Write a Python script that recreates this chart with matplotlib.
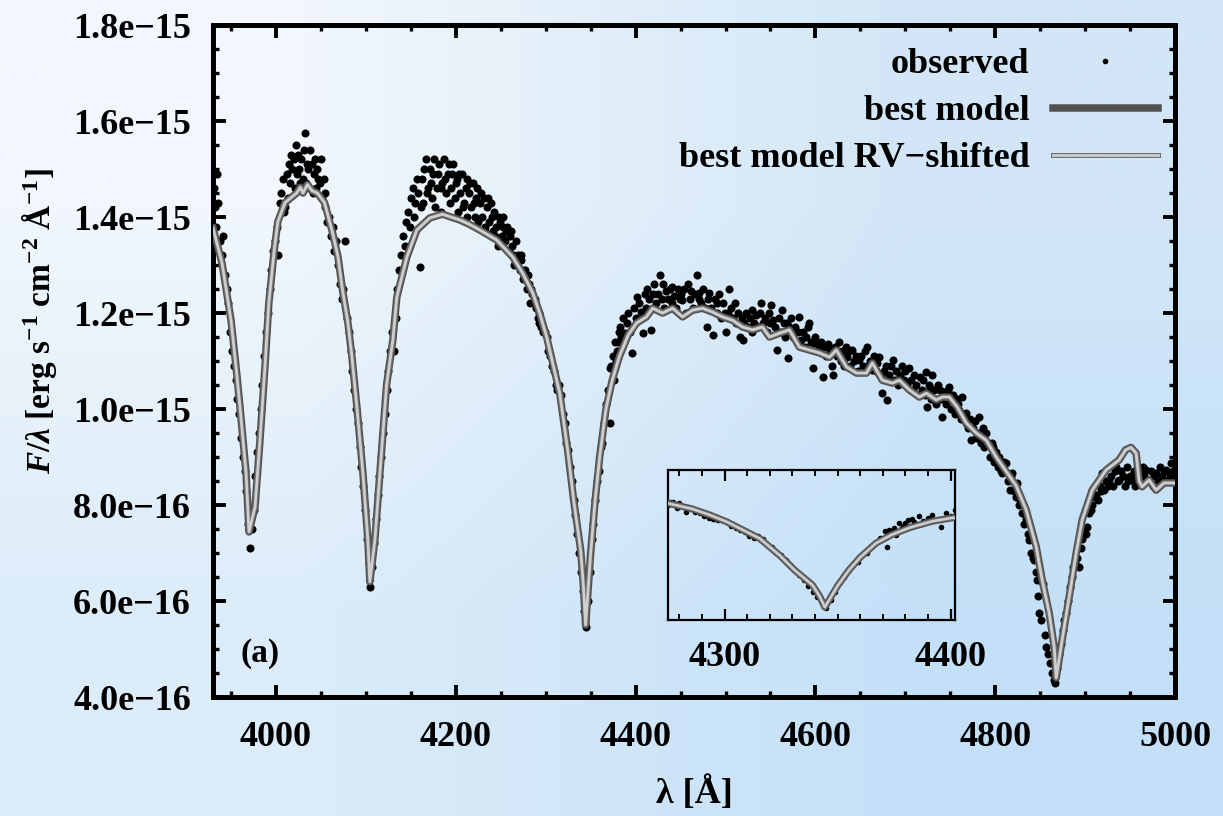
import numpy as np
import matplotlib
matplotlib.use("Agg")
import matplotlib.pyplot as plt
import matplotlib.patheffects as pe
from matplotlib.ticker import MultipleLocator, FuncFormatter

# fluxes below are in units of 1e-16 erg/s/cm^2/A
model_pts = [
    (3930, 13.77), (3940, 13.04), (3950, 11.85), (3956, 10.8), (3960, 10.04),
    (3966.7, 8.67), (3970, 7.44), (3976.7, 7.96), (3982.2, 9.35), (3987.8, 10.9),
    (3992, 12.2), (3998, 13.3), (4002, 13.9), (4010, 14.3), (4023, 14.5),
    (4027, 14.62), (4030, 14.5), (4035, 14.68), (4040, 14.55), (4046, 14.5),
    (4054, 14.3), (4063, 13.67), (4069, 13.17), (4074, 12.48), (4080, 11.8),
    (4084.4, 11.1), (4090, 10.04), (4096.7, 8.67), (4102.2, 7.27), (4104.4, 6.4),
    (4110, 7.27), (4115.6, 8.67), (4123, 10.5), (4130, 11.44), (4134.4, 12.33),
    (4145.6, 13.17), (4156.7, 13.73), (4171, 13.98), (4185, 14.06), (4204.4, 13.94),
    (4215, 13.85), (4226.7, 13.73), (4245.6, 13.52), (4263.3, 13.17), (4274.4, 12.83),
    (4285.6, 12.42), (4293.3, 12.0), (4301.1, 11.5), (4307.8, 10.96), (4315.6, 10.33),
    (4324.4, 9.15), (4331.1, 8.1), (4338.9, 7.06), (4342, 6.3), (4344.4, 5.5),
    (4350, 7.0), (4355, 8.1), (4360, 9.0), (4367, 10.0), (4374, 10.6),
    (4382, 11.1), (4392, 11.55), (4401, 11.79), (4412, 11.92), (4418.9, 12.1),
    (4430, 12.0), (4441.1, 12.1), (4452.2, 11.92), (4463.3, 12.06), (4474.4, 12.1),
    (4485.6, 12.02), (4496.7, 11.92), (4507.8, 11.85), (4518.9, 11.71), (4530, 11.65),
    (4541.1, 11.71), (4548.9, 11.5), (4560, 11.58), (4571.1, 11.65), (4582.2, 11.29),
    (4593.3, 11.23), (4604.4, 11.17), (4615.6, 11.08), (4623.3, 11.23), (4634.4, 10.88),
    (4645.6, 10.75), (4656.7, 10.75), (4663.3, 10.96), (4674.4, 10.6), (4685.6, 10.54),
    (4693.3, 10.6), (4704.4, 10.4), (4715.6, 10.25), (4723.3, 10.33), (4734.4, 10.19),
    (4741.1, 10.25), (4748.9, 10.25), (4757.8, 10.04), (4767.8, 9.71), (4778.9, 9.5),
    (4790, 9.35), (4801.1, 9.0), (4812.2, 8.7), (4823.3, 8.4), (4834.4, 7.9),
    (4845.6, 7.13), (4852.2, 6.44), (4860, 5.75), (4865.6, 5.04), (4867.8, 4.4),
    (4874.4, 5.19), (4882.2, 6.08), (4890, 7.0), (4896.7, 7.69), (4907.8, 8.31),
    (4923.3, 8.73), (4937.8, 8.94), (4945, 9.15), (4951, 9.2), (4956.7, 9.08),
    (4960, 8.5), (4963.3, 8.38), (4971.1, 8.52), (4978.9, 8.31), (4987.8, 8.46),
    (5000, 8.46),
]

obs_heps = [
    (3931, 14.6), (3932, 14.2), (3933, 13.8), (3934, 14.9), (3936, 14.3), (3938, 13.5),
    (3940, 13.2), (3941, 13.6), (3943, 12.8), (3945, 12.5), (3947, 12.2), (3949, 11.6),
    (3951, 11.2), (3953, 10.9), (3955, 10.6), (3957, 10.2), (3959, 9.9), (3961, 9.4),
    (3963, 9.0), (3965, 8.7), (3967, 8.3), (3969, 7.6), (3971, 7.1), (3973, 7.5),
    (3975, 7.9), (3977, 8.6), (3979, 9.1), (3981, 9.5), (3983, 10.0), (3985, 10.5),
    (3987, 11.1), (3989, 11.6), (3991, 12.0), (3993, 12.5), (3995, 12.9), (3997, 13.3),
    (3999, 13.5),
]

obs_hdelta = [
    (4001, 13.8), (4002, 13.2), (4004, 14.3), (4006, 14.5), (4008, 14.8), (4009, 14.1),
    (4010, 14.2), (4012, 14.9), (4013, 14.4), (4014, 15.1), (4016, 14.7), (4017, 15.3),
    (4018, 15.0), (4020, 15.2), (4021, 14.6), (4022, 15.5), (4023, 14.9), (4025, 15.3),
    (4026, 15.0), (4027, 14.7), (4028, 15.2), (4030, 14.8), (4031, 15.4), (4032, 15.75),
    (4033, 14.7), (4035, 15.1), (4036, 15.0), (4037, 14.6), (4038, 15.4), (4040, 15.1),
    (4041, 14.5), (4042, 14.9), (4043, 15.2), (4045, 14.6), (4046, 15.0), (4047, 14.8),
    (4049, 14.7), (4050, 15.2), (4051, 14.4), (4053, 14.8), (4054, 14.2), (4055, 14.5),
    (4057, 13.9), (4059, 14.0), (4061, 13.6), (4063, 13.8), (4065, 13.3), (4067, 13.5),
    (4069, 13.0), (4071, 12.6), (4073, 12.3), (4075, 12.5), (4077, 13.5), (4079, 11.9),
    (4081, 11.6), (4083, 11.2), (4085, 10.8), (4087, 10.4), (4089, 10.0), (4091, 9.7),
    (4093, 9.2), (4095, 8.8), (4097, 8.4), (4099, 7.9), (4101, 7.3), (4103, 6.8),
    (4105, 6.3), (4107, 6.7), (4109, 7.2), (4111, 7.7), (4113, 8.2), (4115, 8.6),
    (4117, 9.0), (4119, 9.5), (4121, 9.9), (4123, 10.4), (4125, 10.8), (4127, 11.2),
    (4129, 11.6),
]

obs_hgamma = [
    (4131, 11.2), (4133, 11.9), (4135, 12.5), (4137, 12.9), (4139, 13.2), (4141, 13.6),
    (4143, 13.4), (4145, 13.9), (4147, 14.1), (4149, 13.8), (4150, 14.4), (4152, 14.6),
    (4154, 14.0), (4155, 14.3), (4157, 14.8), (4158, 14.5), (4160, 12.96), (4161, 14.2),
    (4162, 14.8), (4164, 14.3), (4165, 15.0), (4167, 15.2), (4168, 14.5), (4169, 14.6),
    (4171, 15.0), (4172, 14.7), (4173, 14.4), (4175, 14.9), (4176, 15.2), (4177, 14.2),
    (4179, 14.6), (4180, 14.9), (4181, 15.1), (4183, 14.1), (4184, 14.6), (4185, 14.7),
    (4187, 15.2), (4188, 14.8), (4189, 14.5), (4191, 14.9), (4192, 15.1), (4193, 14.3),
    (4195, 14.6), (4196, 14.9), (4197, 15.1), (4199, 14.4), (4200, 14.7), (4201, 14.8),
    (4203, 14.1), (4204, 14.9), (4205, 14.5), (4207, 14.9), (4208, 14.2), (4209, 14.3),
    (4211, 14.6), (4212, 14.8), (4213, 14.0), (4215, 14.5), (4216, 14.7), (4217, 14.2),
    (4219, 14.7), (4220, 14.3), (4221, 14.0), (4223, 14.4), (4224, 14.6), (4225, 13.9),
    (4227, 14.3), (4228, 14.5), (4229, 14.0), (4231, 14.4), (4232, 13.7), (4233, 13.8),
    (4235, 14.2), (4236, 14.4), (4237, 13.9), (4239, 14.3), (4240, 14.0), (4241, 13.7),
    (4243, 14.1), (4244, 13.6), (4245, 13.8), (4247, 13.4), (4248, 14.0), (4249, 13.9),
    (4251, 13.6), (4252, 13.8), (4253, 14.0), (4255, 13.5), (4256, 13.7), (4257, 13.8),
    (4259, 13.3), (4260, 13.6), (4261, 13.7), (4263, 13.4), (4264, 13.2), (4265, 13.0),
    (4267, 13.5), (4268, 13.1), (4269, 13.2), (4271, 12.9), (4272, 13.2), (4273, 13.1),
    (4275, 12.7), (4276, 12.9), (4277, 12.9), (4279, 12.5), (4280, 12.8), (4281, 12.6),
    (4283, 12.2), (4284, 12.5), (4285, 12.4), (4287, 12.2), (4288, 12.3), (4289, 12.1),
    (4291, 11.9), (4292, 12.0), (4293, 11.8), (4295, 11.7), (4296, 11.7), (4297, 11.6),
    (4299, 11.6), (4301, 11.5), (4303, 11.2), (4305, 11.1), (4307, 10.9), (4309, 10.8),
    (4311, 10.5), (4313, 10.4), (4315, 10.5), (4317, 10.3), (4319, 9.9), (4321, 9.7),
    (4323, 9.3), (4325, 9.15), (4327, 8.8), (4329, 8.5), (4331, 8.1), (4333, 7.8),
    (4335, 7.4), (4337, 7.0), (4339, 6.6), (4341, 6.2), (4343, 5.8), (4345, 5.45),
    (4347, 6.0), (4349, 6.6), (4351, 7.3), (4353, 7.6), (4355, 8.1), (4357, 8.5),
    (4359, 8.7), (4361, 9.2), (4363, 9.3), (4365, 9.7), (4367, 10.1), (4369, 10.4),
    (4371, 10.85), (4373, 10.9), (4375, 11.1), (4377, 11.4), (4379, 11.2), (4381, 11.6),
    (4383, 11.7),
]

obs_cont = [
    (4372, 9.7), (4374, 10.85), (4376, 10.6), (4378, 11.0), (4380, 11.4), (4382, 11.2),
    (4384, 11.5), (4386, 11.9), (4388, 11.58), (4390, 11.8), (4392, 12.0), (4394, 11.6),
    (4396, 11.17), (4398, 12.1), (4400, 11.9), (4402, 12.33), (4404, 12.2), (4406, 12.02),
    (4408, 11.58), (4410, 12.4), (4412, 12.1), (4413, 12.5), (4415, 12.3), (4417, 11.65),
    (4419, 12.4), (4421, 12.6), (4423, 12.2), (4425, 12.4), (4427, 12.8), (4429, 12.3),
    (4430, 12.6), (4432, 12.1), (4434, 12.45), (4436, 12.3), (4438, 12.5), (4440, 12.2),
    (4441, 12.55), (4443, 12.35), (4445, 12.1), (4447, 12.5), (4449, 12.3), (4451, 12.4),
    (4452, 12.27), (4454, 12.5), (4456, 12.0), (4458, 12.6), (4460, 12.3), (4462, 12.45),
    (4464, 12.1), (4466, 12.4), (4468, 12.8), (4470, 12.3), (4471, 12.42), (4473, 12.2),
    (4475, 12.5), (4477, 12.1), (4479, 11.71), (4481, 12.3), (4482, 12.42), (4484, 12.1),
    (4486, 11.54), (4488, 12.3), (4490, 12.0), (4491, 12.2), (4493, 12.4), (4495, 11.9),
    (4497, 12.2), (4499, 12.0), (4501, 11.6), (4503, 12.0), (4504, 12.5), (4506, 12.1),
    (4508, 11.9), (4510, 12.2), (4512, 11.8), (4514, 12.0), (4516, 11.5), (4518, 11.9),
    (4519, 11.44), (4521, 11.8), (4523, 12.0), (4525, 11.7), (4527, 11.9), (4529, 11.6),
    (4530, 12.06), (4532, 11.8), (4534, 11.95), (4536, 11.7), (4538, 12.0), (4540, 12.2),
    (4542, 11.8), (4544, 11.9), (4546, 11.6), (4548, 12.0), (4550, 11.8), (4551, 12.17),
    (4553, 11.85), (4555, 11.7), (4557, 11.23), (4559, 11.9), (4561, 11.6), (4563, 12.06),
    (4565, 11.8), (4566, 11.5), (4568, 11.79), (4569, 11.06), (4571, 11.7), (4573, 11.9),
    (4575, 11.5), (4577, 11.7), (4579, 11.4), (4581, 11.6), (4582, 11.92), (4584, 11.44),
    (4586, 11.6), (4588, 11.3), (4590, 11.5), (4592, 11.7), (4593, 11.79), (4595, 11.4),
    (4597, 10.85), (4598, 11.38), (4600, 11.5), (4602, 11.2), (4604, 11.29), (4606, 11.4),
    (4608, 10.67), (4610, 11.3), (4612, 11.1), (4614, 11.35), (4616, 11.2), (4618, 10.9),
    (4619, 11.23), (4620, 10.7), (4622, 11.3), (4624, 11.1), (4626, 11.4), (4628, 11.0),
    (4630, 11.2), (4632, 10.9), (4634, 11.29), (4635, 11.08), (4637, 11.2), (4639, 10.9),
    (4641, 11.23), (4643, 11.0), (4645, 11.1), (4647, 10.8), (4649, 11.02), (4651, 11.1),
    (4653, 10.9), (4655, 11.2), (4657, 11.29), (4659, 10.9), (4661, 11.0), (4663, 10.81),
    (4665, 11.1), (4667, 10.8), (4669, 10.95), (4671, 11.08), (4673, 10.7), (4674, 10.33),
    (4676, 10.8), (4678, 10.9), (4680, 10.19), (4682, 10.7), (4684, 10.9), (4686, 11.02),
    (4688, 10.6), (4690, 10.8), (4692, 10.5), (4694, 10.7), (4696, 10.9), (4698, 10.6),
    (4700, 10.8), (4702, 10.5), (4704, 10.85), (4706, 10.6), (4708, 10.4), (4710, 10.7),
    (4712, 10.5), (4714, 10.3), (4716, 10.67), (4718, 10.4),
]

obs_hbeta = [
    (4720, 10.6), (4722, 10.3), (4723, 10.77), (4724, 10.04), (4726, 10.5), (4727, 10.44),
    (4729, 10.2), (4730, 10.7), (4732, 10.4), (4734, 10.1), (4736, 10.5), (4738, 10.4),
    (4740, 10.2), (4741, 9.83), (4743, 10.35), (4745, 10.1), (4747, 10.4), (4749, 10.46),
    (4751, 10.0), (4753, 10.3), (4755, 9.9), (4757, 10.2), (4759, 10.1), (4760, 9.98),
    (4762, 9.8), (4763, 10.25), (4765, 9.9), (4767, 9.7), (4768, 9.92), (4770, 9.6),
    (4772, 9.8), (4773, 9.35), (4775, 9.6), (4777, 9.75), (4779, 9.4), (4781, 9.5),
    (4782, 9.83), (4784, 9.3), (4786, 9.6), (4788, 9.2), (4790, 9.5), (4792, 9.3),
    (4794, 9.0), (4796, 9.3), (4797, 9.21), (4799, 8.9), (4801, 9.1), (4803, 8.8),
    (4804, 9.0), (4806, 8.7), (4808, 8.67), (4810, 8.9), (4812, 8.88), (4814, 8.5),
    (4816, 8.31), (4818, 8.6), (4819, 8.67), (4821, 8.3), (4823, 8.17), (4824, 8.46),
    (4826, 8.0), (4828, 8.1), (4830, 7.83), (4832, 7.6), (4834, 7.7), (4836, 7.4),
    (4838, 7.27), (4840, 7.0), (4842, 6.9), (4843, 6.85), (4845, 6.6), (4846, 6.44),
    (4848, 6.1), (4849, 5.75), (4851, 5.6), (4853, 6.35), (4855, 5.3), (4857, 5.04),
    (4859, 4.9), (4861, 4.7), (4863, 4.5), (4865, 4.35), (4867, 4.3), (4869, 4.6),
    (4871, 4.9), (4873, 5.1), (4875, 5.4), (4877, 5.6), (4879, 5.75), (4881, 6.0),
    (4883, 6.3), (4885, 6.5), (4887, 6.7), (4889, 6.8), (4891, 6.9), (4893, 6.7),
    (4895, 7.1), (4897, 7.3), (4899, 7.5), (4901, 7.4), (4902, 7.54), (4904, 7.83),
    (4906, 7.9), (4908, 8.0), (4910, 8.17), (4912, 8.2), (4914, 8.1), (4916, 8.4),
    (4918, 8.3), (4919, 8.67), (4921, 8.31), (4923, 8.5), (4925, 8.4), (4927, 8.52),
    (4929, 8.6), (4931, 8.4), (4933, 8.7), (4934, 8.79), (4936, 8.5), (4938, 8.52),
    (4940, 8.7), (4942, 8.6), (4944, 8.4), (4946, 8.8), (4948, 8.5), (4950, 8.6),
    (4952, 8.52), (4954, 8.7), (4956, 8.4), (4958, 8.6), (4960, 8.67), (4962, 8.5),
    (4964, 8.8), (4966, 8.6), (4968, 8.73), (4970, 8.5), (4971, 8.52), (4973, 8.7),
    (4975, 8.4), (4977, 8.6), (4979, 8.67), (4981, 8.5), (4983, 8.8), (4985, 8.6),
    (4986, 8.52), (4988, 8.7), (4990, 8.73), (4992, 8.5), (4994, 8.6), (4996, 8.88),
    (4998, 8.7),
]

SCALE = 1e-16

plt.rcParams["font.family"] = "Liberation Serif"
plt.rcParams["font.weight"] = "bold"
plt.rcParams["axes.labelweight"] = "bold"
plt.rcParams["mathtext.fontset"] = "custom"
plt.rcParams["mathtext.rm"] = "Liberation Serif:bold"
plt.rcParams["mathtext.it"] = "Liberation Serif:italic"
plt.rcParams["mathtext.bf"] = "Liberation Serif:bold"


def main():
    mw, mf = np.array(model_pts).T
    obs = np.array(obs_heps + obs_hdelta + obs_hgamma + obs_cont + obs_hbeta)
    ow, of = obs.T

    fig = plt.figure(figsize=(12.23, 8.16), dpi=100)

    # soft blue gradient behind everything
    bg = fig.add_axes([0, 0, 1, 1], zorder=-10)
    grad = np.array([[[241, 247, 252], [210, 230, 247]],
                     [[220, 236, 249], [196, 224, 248]]]) / 255.0
    bg.imshow(grad, extent=[0, 1, 0, 1], aspect="auto", interpolation="bilinear")
    bg.axis("off")

    ax = fig.add_axes([0.1742, 0.1458, 0.7866, 0.8235])
    ax.set_facecolor("none")

    ax.plot(ow, of * SCALE, "o", ls="none", color="black", ms=5.8, mew=0,
            label="observed", zorder=2)
    ax.plot(mw, mf * SCALE, color="#505050", lw=5.4, label="best model", zorder=3)
    ax.plot(mw, mf * SCALE, color="#cfcfcf", lw=2.0, label="best model RV\u2212shifted",
            zorder=4, path_effects=[pe.Stroke(linewidth=3.6, foreground="#707070"), pe.Normal()])

    ax.set_xlim(3930, 5000)
    ax.set_ylim(4e-16, 1.8e-15)
    ax.xaxis.set_major_locator(MultipleLocator(200))
    ax.xaxis.set_minor_locator(MultipleLocator(50))
    ax.yaxis.set_major_locator(MultipleLocator(2e-16))
    ax.yaxis.set_minor_locator(MultipleLocator(0.5e-16))
    ax.yaxis.set_major_formatter(FuncFormatter(lambda v, p: f"{v:.1e}".replace("-", "\u2212")))
    ax.tick_params(which="both", direction="in", top=True, right=True, labelsize=26)
    ax.tick_params(which="major", length=9, width=2.8)
    ax.tick_params(which="minor", length=4.5, width=2.4)
    ax.tick_params(axis="x", pad=17)
    ax.tick_params(axis="y", pad=16)
    for s in ax.spines.values():
        s.set_linewidth(3.6)

    ax.set_xlabel("\u03bb [\u00c5]", fontsize=26, fontweight="bold")
    ax.xaxis.set_label_coords(0.5, -0.118)
    ax.set_ylabel(r"$F/\lambda$ [erg s$^{-1}$ cm$^{-2}$ $\mathrm{\AA}^{-1}$]",
                  fontsize=24, fontweight="bold")
    ax.yaxis.set_label_coords(-0.16, 0.56)

    ax.text(0.049, 0.065, "(a)", transform=ax.transAxes, fontsize=24,
            ha="center", va="center")

    leg = ax.legend(loc="upper right", bbox_to_anchor=(0.982, 0.966), frameon=False,
                    fontsize=26, markerfirst=False, handlelength=2.9, handletextpad=0.65,
                    labelspacing=0.38, borderpad=0, borderaxespad=0, numpoints=1,
                    markerscale=0.7)
    for t in leg.get_texts():
        t.set_ha("right")

    # zoom on H-gamma
    ins = fig.add_axes([0.5462, 0.2402, 0.2347, 0.1838])
    ins.set_facecolor("none")
    ins.plot(ow, of * SCALE, "o", ls="none", color="black", ms=4.0, mew=0, zorder=2)
    ins.plot(mw, mf * SCALE, color="#505050", lw=5.0, zorder=3)
    ins.plot(mw, mf * SCALE, color="#cfcfcf", lw=1.8, zorder=4,
             path_effects=[pe.Stroke(linewidth=3.4, foreground="#707070"), pe.Normal()])
    ins.set_xlim(4275, 4402)
    ins.set_ylim(4.6e-16, 15.15e-16)
    ins.xaxis.set_major_locator(MultipleLocator(100))
    ins.xaxis.set_minor_locator(MultipleLocator(10))
    ins.tick_params(axis="x", which="both", direction="in", top=True, labelsize=26, pad=15)
    ins.tick_params(axis="x", which="major", length=8, width=1.6)
    ins.tick_params(axis="x", which="minor", length=4, width=1.4)
    ins.tick_params(axis="y", which="both", left=False, right=False, labelleft=False)
    for s in ins.spines.values():
        s.set_linewidth(1.6)

    fig.savefig("out.png", dpi=100)
    plt.close("all")


if __name__ == "__main__":
    main()
